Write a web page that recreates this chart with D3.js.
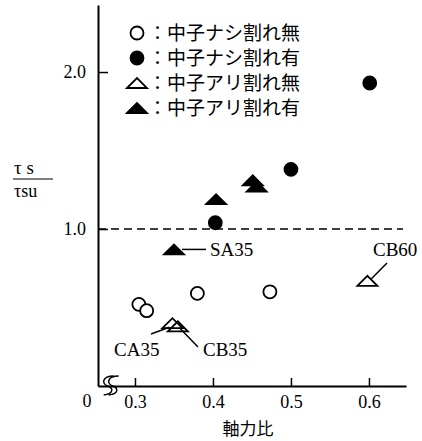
<!DOCTYPE html>
<html>
<head>
<meta charset="utf-8">
<script src="https://cdn.jsdelivr.net/npm/d3@7"></script>
<style>
  body { margin: 0; background: #fff; }
  svg { display: block; }
</style>
</head>
<body>
<div id="viz"></div>
<script>
// data
const openCircleX = [0.305, 0.315, 0.38, 0.473];
const openCircleY = [0.52, 0.48, 0.59, 0.60];
const filledCircleX = [0.403, 0.50, 0.601];
const filledCircleY = [1.04, 1.38, 1.93];
const openTriX = [0.348, 0.355, 0.598];
const openTriY = [0.40, 0.38, 0.67];
const filledTriX = [0.350, 0.404, 0.451, 0.456];
const filledTriY = [0.87, 1.19, 1.31, 1.27];

const xTicks = [0.3, 0.4, 0.5, 0.6];
const yTicks = [1.0, 2.0];
const legendLabels = ['：中子ナシ割れ無', '：中子ナシ割れ有', '：中子アリ割れ無', '：中子アリ割れ有'];
const legendKinds = ['openCircle', 'filledCircle', 'openTri', 'filledTri'];

const SERIF = '"Liberation Serif", "DejaVu Serif", serif';
const JP = '"Noto Sans CJK JP", sans-serif';

const width = 422, height = 441;
const svg = d3.select('#viz').append('svg')
    .attr('width', width)
    .attr('height', height);

const xScale = d3.scaleLinear().domain([0.2526, 0.6475]).range([98, 406]);
const yScale = d3.scaleLinear().domain([0, 2.427]).range([386, 5]);

// axes
const xAxis = svg.append('g')
    .attr('transform', `translate(0,${yScale(0)})`)
    .call(d3.axisBottom(xScale).tickValues(xTicks).tickSizeInner(-8).tickSizeOuter(0).tickFormat(d3.format('.1f')));
xAxis.select('.domain').attr('stroke-width', 2);
xAxis.selectAll('.tick line').attr('stroke-width', 1.5);
xAxis.selectAll('.tick text')
    .style('font-family', SERIF).style('font-size', '18px').style('fill', '#000')
    .attr('y', 9).attr('dy', '0.71em');

const yAxis = svg.append('g')
    .attr('transform', `translate(${xScale.range()[0]},0)`)
    .call(d3.axisLeft(yScale).tickValues(yTicks).tickSizeInner(-10).tickSizeOuter(0).tickFormat(d3.format('.1f')));
yAxis.select('.domain').attr('stroke-width', 2);
yAxis.selectAll('.tick line').attr('stroke-width', 1.5);
yAxis.selectAll('.tick text')
    .style('font-family', SERIF).style('font-size', '18px').style('fill', '#000')
    .attr('x', -12);

// origin label
svg.append('text')
    .style('font-family', SERIF).style('font-size', '18px')
    .attr('x', 87).attr('y', yScale(0) + 21)
    .attr('text-anchor', 'middle').text('0');

// axis break squiggle
const bx = xScale(0.265), by = yScale(0);
[0, 5].forEach(off => {
    svg.append('path')
        .attr('d', `M${bx + 6 + off},${by - 10} C${bx - 6 + off},${by - 10} ${bx - 6 + off},${by - 2} ${bx + off},${by} S${bx + 6 + off},${by + 8} ${bx - 4 + off},${by + 9}`)
        .attr('fill', 'none').attr('stroke', '#000').attr('stroke-width', 1.5);
});

// dashed reference line at 1.0
svg.append('line')
    .attr('x1', xScale.range()[0]).attr('x2', 403)
    .attr('y1', yScale(1)).attr('y2', yScale(1))
    .attr('stroke', '#000').attr('stroke-width', 1.5)
    .attr('stroke-dasharray', '8,5');

// axis titles
svg.append('text')
    .style('font-family', JP).style('font-size', '17px')
    .attr('x', 248).attr('y', 435).attr('text-anchor', 'middle').text('軸力比');
svg.append('text')
    .style('font-family', SERIF).style('font-size', '19px')
    .attr('x', 14).attr('y', 174).text('τ s');
svg.append('line').attr('x1', 13).attr('x2', 53).attr('y1', 179).attr('y2', 179)
    .attr('stroke', '#000').attr('stroke-width', 1.2);
svg.append('text')
    .style('font-family', SERIF).style('font-size', '18px')
    .attr('x', 14).attr('y', 197).text('τsu');

// markers
const triPath = (w, h) => `M${-w / 2},${h / 2} L0,${-h / 2} L${w / 2},${h / 2} Z`;
function drawMarker(g, kind, x, y) {
    if (kind === 'openCircle' || kind === 'filledCircle') {
        g.append('circle').attr('cx', x).attr('cy', y).attr('r', 6.5)
            .attr('fill', kind === 'filledCircle' ? '#000' : '#fff')
            .attr('stroke', '#000').attr('stroke-width', 1.8);
    } else {
        g.append('path').attr('d', triPath(20, 10))
            .attr('transform', `translate(${x},${y})`)
            .attr('fill', kind === 'filledTri' ? '#000' : 'none')
            .attr('stroke', '#000').attr('stroke-width', 1.8)
            .attr('stroke-linejoin', 'miter');
    }
}
const marks = svg.append('g');
openCircleX.forEach((v, i) => drawMarker(marks, 'openCircle', xScale(v), yScale(openCircleY[i])));
filledCircleX.forEach((v, i) => drawMarker(marks, 'filledCircle', xScale(v), yScale(filledCircleY[i])));
openTriX.forEach((v, i) => drawMarker(marks, 'openTri', xScale(v), yScale(openTriY[i])));
filledTriX.forEach((v, i) => drawMarker(marks, 'filledTri', xScale(v), yScale(filledTriY[i])));

// legend
legendLabels.forEach((lab, i) => {
    const ly = 33 + i * 25;
    drawMarker(svg, legendKinds[i], 137, ly);
    svg.append('text')
        .style('font-family', JP).style('font-size', '19px')
        .attr('x', 148).attr('y', ly).attr('dy', '0.36em').text(lab);
});

// specimen annotations with leader lines
const ann = svg.append('g');
function leader(x1, y1, x2, y2) {
    ann.append('line').attr('x1', x1).attr('y1', y1).attr('x2', x2).attr('y2', y2)
        .attr('stroke', '#000').attr('stroke-width', 1.5);
}
function label(x, y, t) {
    ann.append('text')
        .style('font-family', SERIF).style('font-size', '19px')
        .attr('x', x).attr('y', y).text(t);
}
// SA35
leader(xScale(filledTriX[0]) + 8, yScale(filledTriY[0]), 206, yScale(filledTriY[0]));
label(210, 256, 'SA35');
// CB60
leader(xScale(openTriX[2]) + 4, yScale(openTriY[2]) - 2, 387, 263);
label(373, 256, 'CB60');
// CA35
leader(xScale(openTriX[0]) - 3, yScale(openTriY[0]) + 4, 151, 334);
label(114, 356, 'CA35');
// CB35
leader(xScale(openTriX[1]) + 2, yScale(openTriY[1]) + 2, 198, 347);
label(203, 356, 'CB35');
</script>
</body>
</html>
